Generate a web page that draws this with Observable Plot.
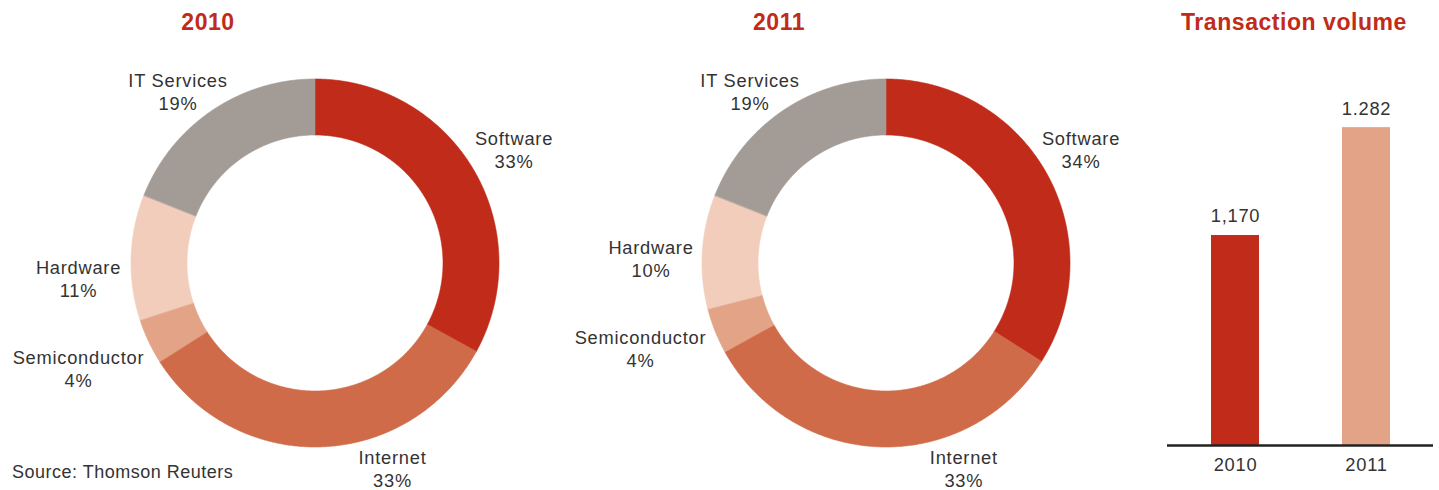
<!DOCTYPE html>
<html>
<head>
<meta charset="utf-8">
<script src="https://cdn.jsdelivr.net/npm/d3@7"></script>
<script src="https://cdn.jsdelivr.net/npm/@observablehq/plot@0.6"></script>
<style>
  html, body { margin: 0; padding: 0; background: #fff; }
  #root { position: relative; width: 1439px; height: 490px; overflow: hidden;
          font-family: "Liberation Sans", Arial, Helvetica, sans-serif; }
  .panel { position: absolute; top: 0; }
  .panel svg { background: transparent !important; display: block; }
  .title { position: absolute; top: 8px; transform: translateX(-50%); white-space: nowrap;
           color: #c02b1a; font-weight: bold; font-size: 23px; letter-spacing: 0.55px; line-height: 28px; }
  .source { position: absolute; left: 12px; top: 461px; font-size: 18px; color: #333;
            letter-spacing: 0.5px; line-height: 22px; white-space: nowrap; }
</style>
</head>
<body>
<div id="root">
  <div class="panel" id="donut2010" style="left:0px"></div>
  <div class="panel" id="donut2011" style="left:571px"></div>
  <div class="panel" id="bars" style="left:1142px"></div>
  <div class="title" style="left:208px">2010</div>
  <div class="title" style="left:779px">2011</div>
  <div class="title" style="left:1294px">Transaction volume</div>
  <div class="source">Source: Thomson Reuters</div>
</div>
<script>
// ---- data ----
const categories = ["Software", "Internet", "Semiconductor", "Hardware", "IT Services"];
const share2010 = [33, 33, 4, 11, 19];
const share2011 = [34, 33, 4, 10, 19];
const sliceColors = ["#c02b1a", "#cf6b49", "#e3a387", "#f2cdbb", "#a39b95"];

const volumeYears = ["2010", "2011"];
const volumeValues = [1170, 1282];
const volumeLabels = ["1,170", "1.282"];
const volumeColors = ["#c02b1a", "#e3a387"];
const volumeAxisMin = 952;   // value at the baseline of the bar chart
const volumeAxisMax = 1414;

// ---- layout (label placement relative to donut centre, px; y up) ----
const labelLayout = {
  "2010": {
    "Software": [198.5, 113], "Internet": [77, -206.5], "Semiconductor": [-237, -106.5],
    "Hardware": [-237, -16.5], "IT Services": [-137.5, 171]
  },
  "2011": {
    "Software": [194.5, 113], "Internet": [77.3, -206.5], "Semiconductor": [-246, -86.5],
    "Hardware": [-235.5, 4], "IT Services": [-136.5, 171]
  }
};
const outerR = 184, innerR = 128;
const fontFamily = '"Liberation Sans", Arial, Helvetica, sans-serif';

function donut(year, shares, el) {
  const total = d3.sum(shares);
  // ring-segment outlines (inner and outer edge) from cumulative shares
  const pts = [];
  let acc = 0;
  shares.forEach((v, i) => {
    const a0 = acc / total * 2 * Math.PI;
    acc += v;
    const a1 = acc / total * 2 * Math.PI;
    const n = Math.max(2, Math.ceil((a1 - a0) / (Math.PI / 360)));
    for (let k = 0; k <= n; k++) {
      const a = a0 + (a1 - a0) * k / n;
      pts.push({
        cat: categories[i],
        x1: innerR * Math.sin(a), y1: innerR * Math.cos(a),
        x2: outerR * Math.sin(a), y2: outerR * Math.cos(a)
      });
    }
  });
  const labels = categories.map((c, i) => ({
    cat: c, pct: shares[i] + "%",
    x: labelLayout[year][c][0], y: labelLayout[year][c][1]
  }));
  const W = 571, H = 490;
  const chart = Plot.plot({
    width: W, height: H,
    marginTop: 0, marginBottom: 0, marginLeft: 0, marginRight: 0,
    x: { domain: [-315, W - 315], axis: null },
    y: { domain: [263 - H, 263], axis: null },
    color: { domain: categories, range: sliceColors },
    style: { background: "transparent", fontFamily, fontSize: "18px", color: "#333" },
    marks: [
      Plot.area(pts, { x1: "x1", y1: "y1", x2: "x2", y2: "y2", z: "cat",
                       fill: "cat", stroke: "cat", strokeWidth: 0.6, curve: "linear" }),
      Plot.text(labels, { x: "x", y: "y", text: "cat", dy: -11.5, fill: "#333", fontSize: 18.3 }),
      Plot.text(labels, { x: "x", y: "y", text: "pct", dy: 11.5, fill: "#333", fontSize: 18.3 })
    ]
  });
  chart.querySelectorAll("text").forEach(t => t.setAttribute("letter-spacing", "0.75"));
  el.appendChild(chart);
}

donut("2010", share2010, document.getElementById("donut2010"));
donut("2011", share2011, document.getElementById("donut2011"));

// ---- bar chart ----
const barData = volumeYears.map((y, i) => ({
  year: y, value: volumeValues[i], label: volumeLabels[i], color: volumeColors[i]
}));
const bars = Plot.plot({
  width: 297, height: 490,
  marginTop: 0, marginBottom: 45, marginLeft: 25, marginRight: 6,
  x: { domain: volumeYears, axis: null, paddingInner: 0.636, paddingOuter: 0.326 },
  y: { domain: [volumeAxisMin, volumeAxisMax], axis: null },
  style: { background: "transparent", fontFamily, fontSize: "18px", color: "#333" },
  marks: [
    Plot.barY(barData, { x: "year", y1: volumeAxisMin, y2: "value", fill: "color" }),
    Plot.ruleY([volumeAxisMin], { stroke: "#222", strokeWidth: 2.5 }),
    Plot.text(barData, { x: "year", y: "value", text: "label", dy: -19, fill: "#333", fontSize: 18.3 }),
    Plot.text(barData, { x: "year", y: volumeAxisMin, text: "year", dy: 20, fill: "#333", fontSize: 18.3 })
  ]
});
bars.querySelectorAll("text").forEach(t => t.setAttribute("letter-spacing", "0.75"));
document.getElementById("bars").appendChild(bars);
</script>
</body>
</html>
